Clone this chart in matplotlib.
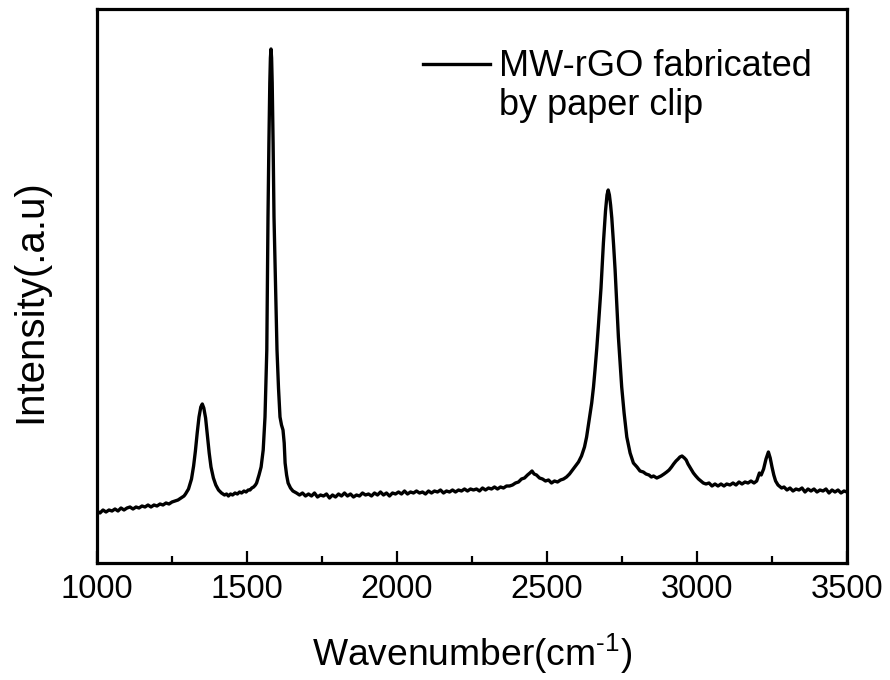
import matplotlib
matplotlib.use("Agg")
import matplotlib.pyplot as plt
from matplotlib.lines import Line2D
from matplotlib.ticker import MultipleLocator

plt.rcParams['font.family'] = ['Liberation Sans', 'DejaVu Sans']
plt.rcParams['mathtext.fontset'] = 'custom'
plt.rcParams['mathtext.rm'] = 'Liberation Sans'
plt.rcParams['mathtext.it'] = 'Liberation Sans:italic'
plt.rcParams['mathtext.bf'] = 'Liberation Sans:bold'

# Raman spectrum (wavenumber in cm^-1, intensity in a.u.)
wavenumber = [
    1000, 1010, 1020, 1030, 1040, 1050, 1060, 1070, 1080, 1090,
    1100, 1110, 1120, 1130, 1140, 1150, 1160, 1170, 1180, 1190,
    1200, 1210, 1220, 1230, 1240, 1250, 1260, 1270, 1280, 1290,
    1295, 1305, 1315, 1322, 1328, 1334, 1340, 1346, 1351, 1356,
    1362, 1368, 1374, 1380, 1388, 1396, 1405, 1415, 1425, 1432,
    1438, 1445, 1452, 1460, 1468, 1475, 1482, 1490, 1497, 1504,
    1510, 1516, 1522, 1528, 1532, 1540, 1547, 1554, 1560, 1563,
    1566, 1568, 1570, 1573, 1576, 1578, 1580, 1582, 1584, 1587,
    1590, 1595, 1600, 1605, 1610, 1615, 1620, 1624, 1627, 1632,
    1637, 1645, 1653, 1665, 1675, 1685, 1695, 1705, 1715, 1725,
    1735, 1745, 1755, 1765, 1775, 1785, 1795, 1805, 1815, 1825,
    1835, 1845, 1855, 1865, 1875, 1885, 1895, 1905, 1915, 1925,
    1935, 1945, 1955, 1965, 1975, 1985, 1995, 2005, 2015, 2025,
    2035, 2045, 2055, 2065, 2075, 2085, 2095, 2105, 2115, 2125,
    2135, 2145, 2155, 2165, 2175, 2185, 2195, 2205, 2215, 2225,
    2235, 2245, 2255, 2265, 2275, 2285, 2295, 2305, 2315, 2325,
    2335, 2345, 2355, 2365, 2375, 2385, 2395, 2405, 2415, 2425,
    2435, 2443, 2450, 2457, 2465, 2475, 2485, 2495, 2505, 2515,
    2525, 2535, 2545, 2555, 2565, 2575, 2585, 2595, 2605, 2615,
    2625, 2632, 2640, 2649, 2655, 2660, 2666, 2672, 2680, 2688,
    2695, 2700, 2704, 2708, 2712, 2716, 2722, 2727, 2732, 2738,
    2744, 2749, 2757, 2766, 2777, 2788, 2800, 2810, 2821, 2830,
    2840, 2848, 2855, 2866, 2873, 2880, 2890, 2899, 2907, 2915,
    2922, 2930, 2937, 2943, 2950, 2958, 2964, 2970, 2978, 2988,
    2996, 3005, 3013, 3021, 3030, 3040, 3050, 3060, 3070, 3080,
    3090, 3099, 3110, 3120, 3130, 3140, 3150, 3160, 3170, 3180,
    3190, 3199, 3208, 3214, 3222, 3230, 3238, 3244, 3250, 3256,
    3262, 3270, 3282, 3290, 3300, 3310, 3320, 3330, 3340, 3350,
    3360, 3370, 3380, 3390, 3400, 3410, 3420, 3430, 3440, 3450,
    3460, 3470, 3480, 3490, 3500,
]
intensity = [
    52, 50, 53, 51, 53, 52, 54, 52, 55, 53,
    55, 56, 54, 56, 55, 57, 56, 58, 56, 58,
    57, 59, 58, 60, 59, 61, 62, 63, 65, 67,
    69, 74, 84, 97, 112, 130, 146, 156, 159, 155,
    145, 128, 110, 96, 85, 78, 73, 70, 68, 69,
    67, 69, 68, 70, 69, 71, 70, 72, 71, 73,
    73, 75, 76, 78, 80, 88, 96, 113, 146, 180,
    213, 280, 346, 420, 480, 505, 514, 505, 480, 420,
    346, 280, 213, 175, 146, 138, 133, 120, 100, 88,
    80, 75, 72, 70, 68, 70, 67, 69, 67, 70,
    66, 68, 67, 69, 65, 68, 66, 69, 67, 70,
    67, 69, 66, 68, 67, 70, 68, 69, 67, 70,
    68, 71, 68, 70, 67, 70, 69, 71, 69, 72,
    69, 71, 70, 72, 70, 71, 69, 72, 70, 72,
    71, 73, 70, 72, 71, 73, 71, 73, 72, 74,
    72, 74, 73, 74, 72, 75, 73, 75, 74, 76,
    74, 76, 75, 77, 77, 78, 80, 81, 84, 85,
    88, 90, 92, 89, 88, 85, 84, 82, 83, 80,
    82, 81, 83, 84, 86, 89, 93, 97, 101, 107,
    116, 126, 142, 160, 176, 193, 215, 240, 275, 320,
    352, 368, 373, 368, 358, 345, 318, 293, 262, 226,
    198, 176, 150, 126, 110, 100, 96, 92, 91, 89,
    88, 86, 87, 85, 86, 87, 89, 91, 93, 96,
    99, 102, 104, 106, 107, 105, 103, 99, 95, 90,
    87, 84, 82, 80, 79, 80, 77, 79, 77, 79,
    77, 79, 78, 80, 78, 81, 79, 81, 80, 82,
    80, 82, 90, 88, 94, 104, 111, 105, 96, 88,
    82, 78, 75, 76, 73, 75, 72, 74, 73, 75,
    71, 74, 72, 74, 71, 73, 72, 74, 70, 73,
    71, 73, 70, 72, 71,
]
series_label_lines = ["MW-rGO fabricated", "by paper clip"]
x_ticks = [1000, 1500, 2000, 2500, 3000, 3500]

fig = plt.figure(figsize=(8.9, 6.8), dpi=100)
ax = fig.add_axes([97 / 890, 1 - 563 / 680, (847 - 97) / 890, (563 - 9) / 680])

line, = ax.plot(wavenumber, intensity, color='black', lw=2.4)

ax.set_xlim(1000, 3500)
ax.set_ylim(0, 554)
ax.set_xticks(x_ticks)
ax.xaxis.set_minor_locator(MultipleLocator(250))
ax.set_yticks([])
ax.tick_params(axis='x', which='major', direction='in', length=8.6, width=1.6,
               labelsize=23.5, pad=8, top=False)
ax.tick_params(axis='x', which='minor', direction='in', length=5, width=1.6, top=False)
for s in ax.spines.values():
    s.set_linewidth(2.3)

ax.set_xlabel(r'Wavenumber(cm$^{\text{-1}}$)', fontsize=26.8, labelpad=19)
ax.set_ylabel('Intensity(.a.u)', fontsize=29)
ax.yaxis.set_label_coords(-0.064, 0.473)

blank = Line2D([], [], color='none')
ax.legend([line, blank], series_label_lines, loc='upper left',
          bbox_to_anchor=(0.416, 0.953), frameon=False, fontsize=26,
          handlelength=1.85, handletextpad=0.25, borderaxespad=0, labelspacing=0.11)

fig.savefig('out.png', dpi=100)
